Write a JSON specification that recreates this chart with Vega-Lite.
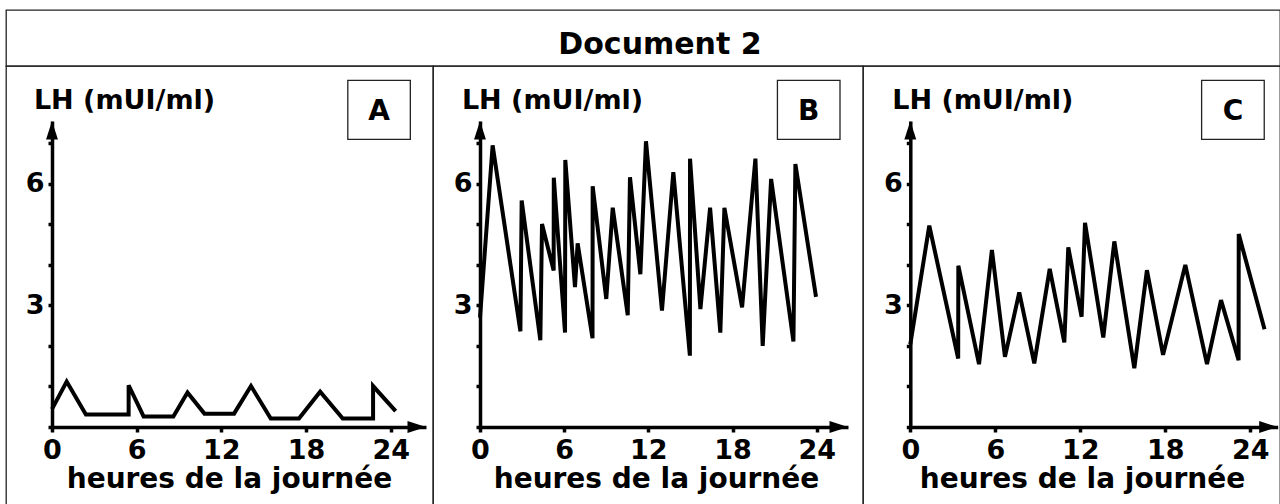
{
  "$schema": "https://vega.github.io/schema/vega-lite/v6.json",
  "background": "white",
  "padding": {"left": 5, "top": 9, "right": 0, "bottom": 0},
  "bounds": "flush",
  "spacing": 0,
  "config": {
    "view": {"stroke": "#222", "strokeWidth": 1.3},
    "axis": {"domainColor": "black", "domainWidth": 3.5, "domainCap": "butt", "tickColor": "black", "tickWidth": 3.5, "tickCap": "butt", "labelFont": "DejaVu Sans", "labelFontWeight": "bold", "labelFontSize": 27, "labelColor": "black", "titleFont": "DejaVu Sans", "titleFontWeight": "bold", "titleFontSize": 27, "titleColor": "black", "grid": false, "labelFlush": false, "labelOverlap": false, "format": "d"},
    "axisX": {"tickSize": 5, "labelPadding": 5, "titleY": 60, "titleBaseline": "alphabetic", "titleAlign": "center", "titleFontSize": 28},
    "axisY": {"tickSize": 4, "labelPadding": 4, "titleAngle": 0, "titleAlign": "center", "titleBaseline": "alphabetic", "titleY": 42}
  },
  "datasets": {
    "A": [
      {"i": 0, "h": 0, "lh": 0.44}, {"i": 1, "h": 1.04, "lh": 1.12}, {"i": 2, "h": 2.4, "lh": 0.31}, {"i": 3, "h": 5.43, "lh": 0.31}, {"i": 4, "h": 5.43, "lh": 1.03}, {"i": 5, "h": 6.49, "lh": 0.26}, {"i": 6, "h": 8.6, "lh": 0.26}, {"i": 7, "h": 9.6, "lh": 0.85}, {"i": 8, "h": 10.8, "lh": 0.33}, {"i": 9, "h": 12.9, "lh": 0.33}, {"i": 10, "h": 14.1, "lh": 1.01}, {"i": 11, "h": 15.5, "lh": 0.21}, {"i": 12, "h": 17.5, "lh": 0.21}, {"i": 13, "h": 19.0, "lh": 0.87}, {"i": 14, "h": 20.6, "lh": 0.21}, {"i": 15, "h": 22.75, "lh": 0.21}, {"i": 16, "h": 22.75, "lh": 1.01}, {"i": 17, "h": 24.35, "lh": 0.39}
    ],
    "B": [
      {"i": 0, "h": 0, "lh": 2.7}, {"i": 1, "h": 0.9, "lh": 6.95}, {"i": 2, "h": 2.88, "lh": 2.36}, {"i": 3, "h": 2.97, "lh": 5.59}, {"i": 4, "h": 4.3, "lh": 2.14}, {"i": 5, "h": 4.42, "lh": 5.01}, {"i": 6, "h": 5.25, "lh": 3.86}, {"i": 7, "h": 5.26, "lh": 6.15}, {"i": 8, "h": 6.06, "lh": 2.33}, {"i": 9, "h": 6.08, "lh": 6.59}, {"i": 10, "h": 6.77, "lh": 3.45}, {"i": 11, "h": 6.96, "lh": 4.53}, {"i": 12, "h": 8.02, "lh": 2.19}, {"i": 13, "h": 8.03, "lh": 5.94}, {"i": 14, "h": 9.0, "lh": 3.16}, {"i": 15, "h": 9.46, "lh": 5.41}, {"i": 16, "h": 10.53, "lh": 2.76}, {"i": 17, "h": 10.69, "lh": 6.16}, {"i": 18, "h": 11.43, "lh": 3.77}, {"i": 19, "h": 11.83, "lh": 7.05}, {"i": 20, "h": 12.97, "lh": 2.87}, {"i": 21, "h": 13.78, "lh": 6.29}, {"i": 22, "h": 14.96, "lh": 1.76}, {"i": 23, "h": 14.97, "lh": 6.62}, {"i": 24, "h": 15.71, "lh": 2.91}, {"i": 25, "h": 16.4, "lh": 5.41}, {"i": 26, "h": 17.13, "lh": 2.33}, {"i": 27, "h": 17.42, "lh": 5.41}, {"i": 28, "h": 18.68, "lh": 2.95}, {"i": 29, "h": 19.63, "lh": 6.62}, {"i": 30, "h": 20.15, "lh": 2.0}, {"i": 31, "h": 20.75, "lh": 6.12}, {"i": 32, "h": 22.34, "lh": 2.11}, {"i": 33, "h": 22.48, "lh": 6.49}, {"i": 34, "h": 23.95, "lh": 3.21}
    ],
    "C": [
      {"i": 0, "h": 0, "lh": 2.04}, {"i": 1, "h": 1.34, "lh": 4.97}, {"i": 2, "h": 3.38, "lh": 1.69}, {"i": 3, "h": 3.39, "lh": 3.98}, {"i": 4, "h": 4.85, "lh": 1.55}, {"i": 5, "h": 5.76, "lh": 4.37}, {"i": 6, "h": 6.68, "lh": 1.73}, {"i": 7, "h": 7.69, "lh": 3.32}, {"i": 8, "h": 8.75, "lh": 1.57}, {"i": 9, "h": 9.84, "lh": 3.9}, {"i": 10, "h": 10.87, "lh": 2.09}, {"i": 11, "h": 11.15, "lh": 4.43}, {"i": 12, "h": 12.09, "lh": 2.72}, {"i": 13, "h": 12.33, "lh": 5.04}, {"i": 14, "h": 13.62, "lh": 2.21}, {"i": 15, "h": 14.4, "lh": 4.58}, {"i": 16, "h": 15.81, "lh": 1.45}, {"i": 17, "h": 16.7, "lh": 3.87}, {"i": 18, "h": 17.84, "lh": 1.78}, {"i": 19, "h": 19.41, "lh": 4.0}, {"i": 20, "h": 20.94, "lh": 1.55}, {"i": 21, "h": 21.93, "lh": 3.13}, {"i": 22, "h": 23.17, "lh": 1.65}, {"i": 23, "h": 23.18, "lh": 4.76}, {"i": 24, "h": 25.0, "lh": 2.41}
    ]
  },
  "vconcat": [
    {
      "width": 1274, "height": 56,
      "data": {"values": [{"t": "Document 2"}]},
      "mark": {"type": "text", "font": "DejaVu Sans", "fontSize": 30, "fontWeight": "bold", "color": "black", "baseline": "middle", "dx": 17, "dy": 7},
      "encoding": {
        "x": {"datum": 0.5, "type": "quantitative", "scale": {"domain": [0, 1]}, "axis": null},
        "y": {"datum": 0.5, "type": "quantitative", "scale": {"domain": [0, 1]}, "axis": null},
        "text": {"field": "t"}
      }
    },
    {
      "spacing": 0,
      "bounds": "flush",
      "hconcat": [
        {
          "width": 427, "height": 439,
          "layer": [
            {
              "data": {"name": "A"},
              "mark": {"type": "line", "color": "black", "strokeWidth": 4},
              "encoding": {
                "x": {"field": "h", "type": "quantitative", "scale": {"domain": [0, 26.5], "range": [46, 420], "nice": false, "zero": false}, "axis": {"values": [0, 6, 12, 18, 24], "offset": -78, "title": "heures de la journée", "titleX": 223}},
                "y": {"field": "lh", "type": "quantitative", "scale": {"domain": [0, 7.55], "range": [361, 55], "nice": false, "zero": false}, "axis": {"values": [0, 1, 2, 3, 4, 5, 6, 7], "labelExpr": "datum.value == 3 || datum.value == 6 ? datum.label : ''", "offset": -46, "title": "LH (mUI/ml)", "titleX": 72}},
                "order": {"field": "i", "type": "quantitative"}
              }
            },
            {
              "data": {"values": [{"p": "A"}]},
              "mark": {"type": "rect", "fill": "white", "stroke": "#222", "strokeWidth": 1.3},
              "encoding": {"x": {"datum": 20.96, "type": "quantitative"}, "x2": {"datum": 25.39}, "y": {"datum": 8.553, "type": "quantitative"}, "y2": {"datum": 7.097}}
            },
            {
              "data": {"values": [{"p": "A"}]},
              "mark": {"type": "text", "font": "DejaVu Sans", "fontSize": 28, "fontWeight": "bold", "color": "black", "baseline": "middle", "dy": 2},
              "encoding": {"x": {"datum": 23.17, "type": "quantitative"}, "y": {"datum": 7.83, "type": "quantitative"}, "text": {"field": "p"}}
            },
            {
              "data": {"values": [{}]},
              "mark": {"type": "point", "shape": "M0,0L0.45,1.4L-0.45,1.4Z", "size": 700, "filled": true, "color": "black", "opacity": 1, "strokeWidth": 0},
              "encoding": {"x": {"datum": 0, "type": "quantitative"}, "y": {"datum": 7.55, "type": "quantitative"}}
            },
            {
              "data": {"values": [{}]},
              "mark": {"type": "point", "shape": "M0,0L-1.4,-0.45L-1.4,0.45Z", "size": 700, "filled": true, "color": "black", "opacity": 1, "strokeWidth": 0},
              "encoding": {"x": {"datum": 26.5, "type": "quantitative"}, "y": {"datum": 0, "type": "quantitative"}}
            }
          ]
        },
        {
          "width": 430, "height": 439,
          "layer": [
            {
              "data": {"name": "B"},
              "mark": {"type": "line", "color": "black", "strokeWidth": 4},
              "encoding": {
                "x": {"field": "h", "type": "quantitative", "scale": {"domain": [0, 26.23], "range": [47, 415], "nice": false, "zero": false}, "axis": {"values": [0, 6, 12, 18, 24], "offset": -78, "title": "heures de la journée", "titleX": 223}},
                "y": {"field": "lh", "type": "quantitative", "scale": {"domain": [0, 7.55], "range": [361, 55], "nice": false, "zero": false}, "axis": {"values": [0, 1, 2, 3, 4, 5, 6, 7], "labelExpr": "datum.value == 3 || datum.value == 6 ? datum.label : ''", "offset": -47, "title": "LH (mUI/ml)", "titleX": 72}},
                "order": {"field": "i", "type": "quantitative"}
              }
            },
            {
              "data": {"values": [{"p": "B"}]},
              "mark": {"type": "rect", "fill": "white", "stroke": "#222", "strokeWidth": 1.3},
              "encoding": {"x": {"datum": 21.2, "type": "quantitative"}, "x2": {"datum": 25.66}, "y": {"datum": 8.553, "type": "quantitative"}, "y2": {"datum": 7.097}}
            },
            {
              "data": {"values": [{"p": "B"}]},
              "mark": {"type": "text", "font": "DejaVu Sans", "fontSize": 28, "fontWeight": "bold", "color": "black", "baseline": "middle", "dy": 2},
              "encoding": {"x": {"datum": 23.43, "type": "quantitative"}, "y": {"datum": 7.83, "type": "quantitative"}, "text": {"field": "p"}}
            },
            {
              "data": {"values": [{}]},
              "mark": {"type": "point", "shape": "M0,0L0.45,1.4L-0.45,1.4Z", "size": 700, "filled": true, "color": "black", "opacity": 1, "strokeWidth": 0},
              "encoding": {"x": {"datum": 0, "type": "quantitative"}, "y": {"datum": 7.55, "type": "quantitative"}}
            },
            {
              "data": {"values": [{}]},
              "mark": {"type": "point", "shape": "M0,0L-1.4,-0.45L-1.4,0.45Z", "size": 700, "filled": true, "color": "black", "opacity": 1, "strokeWidth": 0},
              "encoding": {"x": {"datum": 26.23, "type": "quantitative"}, "y": {"datum": 0, "type": "quantitative"}}
            }
          ]
        },
        {
          "width": 417, "height": 439,
          "layer": [
            {
              "data": {"name": "C"},
              "mark": {"type": "line", "color": "black", "strokeWidth": 4},
              "encoding": {
                "x": {"field": "h", "type": "quantitative", "scale": {"domain": [0, 25.93], "range": [47.3, 414.7], "nice": false, "zero": false}, "axis": {"values": [0, 6, 12, 18, 24], "offset": -78, "title": "heures de la journée", "titleX": 219}},
                "y": {"field": "lh", "type": "quantitative", "scale": {"domain": [0, 7.55], "range": [361, 55], "nice": false, "zero": false}, "axis": {"values": [0, 1, 2, 3, 4, 5, 6, 7], "labelExpr": "datum.value == 3 || datum.value == 6 ? datum.label : ''", "offset": -47.3, "title": "LH (mUI/ml)", "titleX": 72}},
                "order": {"field": "i", "type": "quantitative"}
              }
            },
            {
              "data": {"values": [{"p": "C"}]},
              "mark": {"type": "rect", "fill": "white", "stroke": "#222", "strokeWidth": 1.3},
              "encoding": {"x": {"datum": 20.56, "type": "quantitative"}, "x2": {"datum": 24.98}, "y": {"datum": 8.553, "type": "quantitative"}, "y2": {"datum": 7.097}}
            },
            {
              "data": {"values": [{"p": "C"}]},
              "mark": {"type": "text", "font": "DejaVu Sans", "fontSize": 28, "fontWeight": "bold", "color": "black", "baseline": "middle", "dy": 2},
              "encoding": {"x": {"datum": 22.77, "type": "quantitative"}, "y": {"datum": 7.83, "type": "quantitative"}, "text": {"field": "p"}}
            },
            {
              "data": {"values": [{}]},
              "mark": {"type": "point", "shape": "M0,0L0.45,1.4L-0.45,1.4Z", "size": 700, "filled": true, "color": "black", "opacity": 1, "strokeWidth": 0},
              "encoding": {"x": {"datum": 0, "type": "quantitative"}, "y": {"datum": 7.55, "type": "quantitative"}}
            },
            {
              "data": {"values": [{}]},
              "mark": {"type": "point", "shape": "M0,0L-1.4,-0.45L-1.4,0.45Z", "size": 700, "filled": true, "color": "black", "opacity": 1, "strokeWidth": 0},
              "encoding": {"x": {"datum": 25.93, "type": "quantitative"}, "y": {"datum": 0, "type": "quantitative"}}
            }
          ]
        }
      ]
    }
  ]
}
